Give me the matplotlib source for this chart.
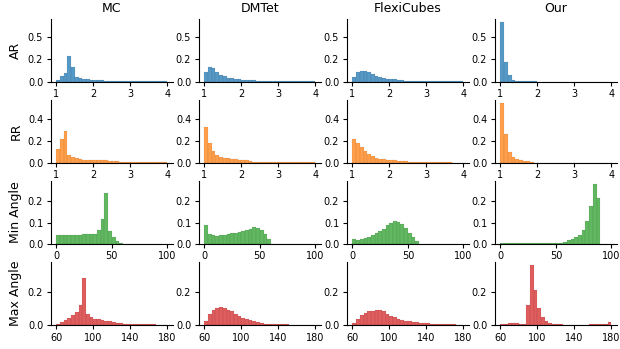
import numpy as np
import matplotlib
matplotlib.use("Agg")
import matplotlib.pyplot as plt
from matplotlib.colors import to_rgba
from matplotlib.ticker import FormatStrFormatter

methods = ["MC", "DMTet", "FlexiCubes", "Our"]
metrics = ["AR", "RR", "Min Angle", "Max Angle"]

# bin ranges per metric (30 bins each)
bin_ranges = {"AR": (1, 4), "RR": (1, 4), "Min Angle": (0, 100), "Max Angle": (60, 180)}
n_bins = 30
x_ticks = {"AR": [1, 2, 3, 4], "RR": [1, 2, 3, 4], "Min Angle": [0, 50, 100],
           "Max Angle": [60, 100, 140, 180]}
y_ticks = {"AR": [0.0, 0.25, 0.5], "RR": [0.0, 0.2, 0.4], "Min Angle": [0.0, 0.1, 0.2],
           "Max Angle": [0.0, 0.2]}

# ---- AR (probability per bin) ----
ar_mc = [0.015, 0.068, 0.100, 0.290, 0.158, 0.053, 0.041, 0.034, 0.034, 0.023,
         0.019, 0.019, 0.019, 0.008, 0.006, 0.006, 0.006, 0.006, 0.006, 0.006,
         0.004, 0.004, 0.004, 0.004, 0.004, 0.004, 0.004, 0.004, 0.004, 0.004]
ar_dmtet = [0.109, 0.165, 0.147, 0.109, 0.079, 0.068, 0.045, 0.045, 0.034, 0.026,
            0.023, 0.023, 0.023, 0.023, 0.008, 0.006, 0.006, 0.006, 0.005, 0.005,
            0.005, 0.004, 0.004, 0.004, 0.004, 0.004, 0.004, 0.003, 0.003, 0.003]
ar_flexi = [0.049, 0.105, 0.117, 0.117, 0.109, 0.086, 0.064, 0.053, 0.045, 0.034,
            0.026, 0.026, 0.019, 0.019, 0.011, 0.008, 0.008, 0.008, 0.008, 0.008,
            0.008, 0.008, 0.008, 0.008, 0.008, 0.004, 0.004, 0.004, 0.004, 0.004]
ar_our = [0.660, 0.214, 0.075, 0.019, 0.008, 0.006, 0.002, 0.002, 0.002, 0.002,
          0.001, 0.001, 0.001, 0.001, 0.001, 0.001, 0.001, 0.001, 0.001, 0.001,
          0.001, 0.001, 0.001, 0.001, 0.001, 0.001, 0.001, 0.001, 0.001, 0.001]

# ---- RR ----
rr_mc = [0.130, 0.220, 0.290, 0.067, 0.049, 0.040, 0.034, 0.025, 0.025, 0.025,
         0.021, 0.021, 0.021, 0.021, 0.012, 0.012, 0.012, 0.006, 0.006, 0.006,
         0.006, 0.006, 0.006, 0.006, 0.006, 0.006, 0.006, 0.006, 0.006, 0.006]
rr_dmtet = [0.333, 0.177, 0.107, 0.073, 0.055, 0.040, 0.040, 0.031, 0.031, 0.024,
            0.021, 0.021, 0.015, 0.006, 0.006, 0.006, 0.006, 0.006, 0.006, 0.006,
            0.006, 0.006, 0.006, 0.006, 0.006, 0.006, 0.006, 0.006, 0.006, 0.006]
rr_flexi = [0.214, 0.177, 0.144, 0.107, 0.076, 0.058, 0.046, 0.037, 0.034, 0.024,
            0.024, 0.021, 0.015, 0.015, 0.015, 0.010, 0.010, 0.010, 0.010, 0.010,
            0.010, 0.010, 0.010, 0.010, 0.010, 0.010, 0.010, 0.000, 0.000, 0.000]
rr_our = [0.547, 0.260, 0.095, 0.049, 0.031, 0.021, 0.015, 0.015, 0.010, 0.002,
          0.002, 0.002, 0.002, 0.002, 0.002, 0.002, 0.002, 0.002, 0.002, 0.002,
          0.002, 0.002, 0.002, 0.002, 0.002, 0.002, 0.002, 0.002, 0.002, 0.002]

# ---- Min Angle ----
min_mc = [0.042, 0.042, 0.042, 0.042, 0.042, 0.042, 0.042, 0.046, 0.046, 0.046,
          0.046, 0.067, 0.119, 0.239, 0.062, 0.031, 0.012, 0.005, 0.000, 0.000,
          0.000, 0.000, 0.000, 0.000, 0.000, 0.000, 0.000, 0.000, 0.000, 0.000]
min_dmtet = [0.090, 0.048, 0.043, 0.039, 0.042, 0.042, 0.047, 0.050, 0.053, 0.056,
             0.060, 0.065, 0.070, 0.078, 0.074, 0.064, 0.048, 0.022, 0.000, 0.000,
             0.000, 0.000, 0.000, 0.000, 0.000, 0.000, 0.000, 0.000, 0.000, 0.000]
min_flexi = [0.025, 0.020, 0.022, 0.026, 0.032, 0.042, 0.050, 0.060, 0.072, 0.087,
             0.100, 0.107, 0.105, 0.095, 0.076, 0.050, 0.030, 0.012, 0.000, 0.000,
             0.000, 0.000, 0.000, 0.000, 0.000, 0.000, 0.000, 0.000, 0.000, 0.000]
min_our = [0.002, 0.002, 0.002, 0.002, 0.002, 0.002, 0.002, 0.006, 0.006, 0.006,
           0.006, 0.006, 0.006, 0.006, 0.006, 0.003, 0.006, 0.011, 0.016, 0.024,
           0.030, 0.043, 0.066, 0.109, 0.180, 0.281, 0.216, 0.000, 0.000, 0.000]

# ---- Max Angle ----
max_mc = [0.006, 0.020, 0.029, 0.043, 0.061, 0.082, 0.122, 0.288, 0.070, 0.049,
          0.037, 0.035, 0.029, 0.024, 0.022, 0.020, 0.014, 0.012, 0.008, 0.007,
          0.005, 0.005, 0.004, 0.004, 0.004, 0.003, 0.003, 0.002, 0.002, 0.002]
max_dmtet = [0.027, 0.067, 0.092, 0.104, 0.110, 0.106, 0.092, 0.084, 0.069, 0.055,
             0.043, 0.037, 0.029, 0.022, 0.016, 0.012, 0.008, 0.005, 0.004, 0.004,
             0.003, 0.003, 0.003, 0.002, 0.002, 0.002, 0.002, 0.001, 0.001, 0.001]
max_flexi = [0.010, 0.037, 0.061, 0.073, 0.086, 0.088, 0.092, 0.092, 0.084, 0.069,
             0.057, 0.047, 0.037, 0.033, 0.027, 0.022, 0.020, 0.016, 0.014, 0.012,
             0.010, 0.008, 0.008, 0.008, 0.008, 0.006, 0.006, 0.006, 0.002, 0.002]
max_our = [0.003, 0.005, 0.010, 0.010, 0.010, 0.005, 0.004, 0.120, 0.367, 0.214,
           0.104, 0.049, 0.024, 0.014, 0.008, 0.005, 0.005, 0.002, 0.002, 0.002,
           0.002, 0.002, 0.002, 0.002, 0.004, 0.004, 0.004, 0.004, 0.004, 0.018]

data = {
    "AR": [ar_mc, ar_dmtet, ar_flexi, ar_our],
    "RR": [rr_mc, rr_dmtet, rr_flexi, rr_our],
    "Min Angle": [min_mc, min_dmtet, min_flexi, min_our],
    "Max Angle": [max_mc, max_dmtet, max_flexi, max_our],
}
row_colors = ["#1f77b4", "#ff7f0e", "#2ca02c", "#d62728"]

fig = plt.figure(figsize=(6.2, 3.49), dpi=100)
axes = fig.subplots(4, 4)
fig.subplots_adjust(left=0.082, right=0.995, bottom=0.069, top=0.945,
                    wspace=0.213, hspace=0.298)

for r, metric in enumerate(metrics):
    lo, hi = bin_ranges[metric]
    edges = np.linspace(lo, hi, n_bins + 1)
    width = edges[1] - edges[0]
    row_max = max(max(v) for v in data[metric])
    for c, method in enumerate(methods):
        ax = axes[r, c]
        vals = data[metric][c]
        ax.bar(edges[:-1], vals, width=width, align="edge",
               facecolor=to_rgba(row_colors[r], 0.75),
               edgecolor=to_rgba("black", 0.5), linewidth=0.08)
        pad = 0.05 * (hi - lo)
        ax.set_xlim(lo - pad, hi + pad)
        ax.set_ylim(0, row_max * 1.05)
        ax.set_xticks(x_ticks[metric])
        ax.set_yticks(y_ticks[metric])
        ax.yaxis.set_major_formatter(FormatStrFormatter("%.1f"))
        ax.tick_params(labelsize=7, length=3, width=0.8, pad=2.5)
        for s in ("top", "right"):
            ax.spines[s].set_visible(False)
        if r == 0:
            ax.set_title(method, fontsize=9, pad=5)
        if c == 0:
            ax.set_ylabel(metric, fontsize=9)

fig.savefig("out.png", dpi=100)
